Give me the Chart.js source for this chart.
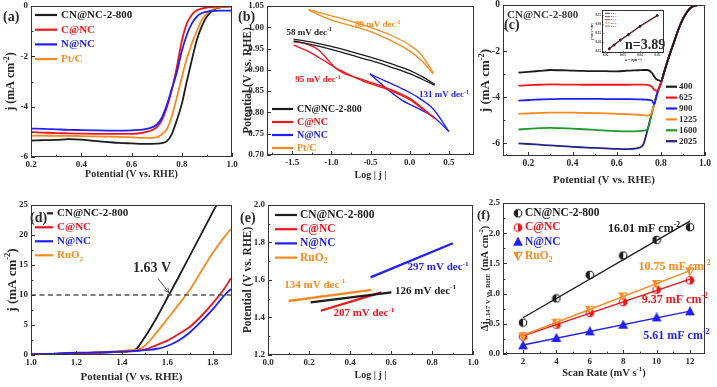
<!DOCTYPE html>
<html>
<head>
<meta charset="utf-8">
<script src="https://cdn.jsdelivr.net/npm/chart.js@4.4.1/dist/chart.umd.min.js"></script>
<style>
  html, body { margin: 0; padding: 0; background: #fff; }
  body { width: 717px; height: 387px; position: relative; overflow: hidden; }
  canvas { position: absolute; }
</style>
</head>
<body>
<canvas id="chartA"></canvas>
<canvas id="chartB"></canvas>
<canvas id="chartC"></canvas>
<canvas id="chartInset"></canvas>
<canvas id="chartD"></canvas>
<canvas id="chartE"></canvas>
<canvas id="chartF"></canvas>
<script>
// (a) ORR polarisation curves
const aPotential = [0.2, 0.25, 0.3, 0.35, 0.4, 0.45, 0.5, 0.55, 0.6, 0.65, 0.7, 0.72, 0.74, 0.76, 0.78, 0.8, 0.82, 0.84, 0.86, 0.88, 0.9, 0.92, 0.94, 0.96, 0.98, 1.0];
const aCN = [-5.35, -5.33, -5.32, -5.29, -5.31, -5.36, -5.4, -5.44, -5.46, -5.48, -5.47, -5.45, -5.38, -5.1, -4.55, -3.9, -3.0, -2.15, -1.35, -0.8, -0.42, -0.2, -0.09, -0.04, -0.02, -0.01];
const aC = [-5.01, -5.03, -5.05, -5.06, -5.07, -5.08, -5.08, -5.08, -5.08, -5.02, -4.82, -4.55, -4.05, -3.35, -2.45, -1.4, -0.7, -0.35, -0.17, -0.1, -0.06, -0.04, -0.02, -0.01, -0.01, -0.01];
const aN = [-4.87, -4.88, -4.9, -4.92, -4.93, -4.94, -4.95, -4.95, -4.94, -4.9, -4.72, -4.45, -3.95, -3.3, -2.65, -1.8, -1.15, -0.7, -0.42, -0.28, -0.22, -0.2, -0.19, -0.18, -0.18, -0.18];
const aPt = [-5.15, -5.15, -5.16, -5.16, -5.17, -5.18, -5.19, -5.2, -5.22, -5.24, -5.22, -5.1, -4.9, -4.4, -3.65, -2.85, -2.1, -1.5, -1.0, -0.55, -0.3, -0.15, -0.07, -0.03, -0.02, -0.01];

// (b) ORR Tafel loops (forward / backward branch)
const bLogJCN = [-1.48, -1.25, -1.0, -0.75, -0.5, -0.25, 0.0, 0.16, 0.32];
const bCNUpper = [0.972, 0.965, 0.955, 0.943, 0.930, 0.915, 0.899, 0.884, 0.866];
const bCNLower = [0.968, 0.959, 0.948, 0.935, 0.922, 0.907, 0.891, 0.878, 0.864];
const bLogJC = [-1.48, -1.3, -1.15, -1.05, -0.95, -0.85, -0.6, -0.3, 0.0, 0.15, 0.32];
const bCUpper = [0.966, 0.960, 0.945, 0.925, 0.905, 0.893, 0.877, 0.858, 0.833, 0.812, 0.786];
const bCLower = [0.958, 0.944, 0.928, 0.917, 0.905, 0.896, 0.874, 0.855, 0.830, 0.810, 0.786];
const bLogJN = [-0.507, -0.3, -0.1, 0.1, 0.3, 0.5];
const bNUpper = [0.890, 0.873, 0.856, 0.836, 0.808, 0.755];
const bNLower = [0.890, 0.857, 0.829, 0.810, 0.790, 0.755];
const bLogJPt = [-1.29, -1.0, -0.75, -0.5, -0.25, 0.0, 0.15, 0.3];
const bPtUpper = [1.042, 1.027, 1.014, 1.000, 0.982, 0.958, 0.935, 0.893];
const bPtLower = [1.040, 1.017, 1.004, 0.990, 0.970, 0.944, 0.922, 0.890];

// (c) RDE curves at different rotation rates (rpm)
const cPotential = [0.155, 0.2, 0.25, 0.3, 0.35, 0.4, 0.45, 0.5, 0.55, 0.6, 0.65, 0.7, 0.72, 0.74, 0.76, 0.77, 0.78, 0.79, 0.8, 0.82, 0.84, 0.86, 0.88, 0.9, 0.92, 0.94, 0.96, 0.97];
const c400 = [-2.93, -2.9, -2.86, -2.82, -2.83, -2.85, -2.86, -2.87, -2.87, -2.88, -2.85, -2.83, -2.82, -2.82, -2.95, -3.1, -3.22, -3.27, -3.3, -2.75, -2.15, -1.6, -1.05, -0.6, -0.28, -0.09, -0.02, 0];
const c625 = [-3.5, -3.48, -3.46, -3.44, -3.45, -3.45, -3.46, -3.46, -3.46, -3.46, -3.46, -3.45, -3.45, -3.46, -3.55, -3.68, -3.72, -3.65, -3.4, -2.75, -2.15, -1.6, -1.05, -0.6, -0.28, -0.09, -0.02, 0];
const c900 = [-4.15, -4.12, -4.1, -4.08, -4.07, -4.07, -4.07, -4.07, -4.08, -4.08, -4.08, -4.09, -4.1, -4.11, -4.15, -4.3, -3.95, -3.65, -3.4, -2.75, -2.15, -1.6, -1.05, -0.6, -0.28, -0.09, -0.02, 0];
const c1225 = [-4.72, -4.7, -4.68, -4.67, -4.67, -4.67, -4.68, -4.69, -4.7, -4.72, -4.74, -4.76, -4.78, -4.8, -4.65, -4.3, -3.95, -3.65, -3.4, -2.75, -2.15, -1.6, -1.05, -0.6, -0.28, -0.09, -0.02, 0];
const c1600 = [-5.4, -5.37, -5.34, -5.33, -5.34, -5.36, -5.39, -5.42, -5.45, -5.47, -5.48, -5.47, -5.45, -5.4, -4.65, -4.3, -3.95, -3.65, -3.4, -2.75, -2.15, -1.6, -1.05, -0.6, -0.28, -0.09, -0.02, 0];
const c2025 = [-6.0, -6.03, -6.06, -6.09, -6.12, -6.15, -6.18, -6.2, -6.22, -6.24, -6.25, -6.2, -6.07, -5.4, -4.65, -4.3, -3.95, -3.65, -3.4, -2.75, -2.15, -1.6, -1.05, -0.6, -0.28, -0.09, -0.02, 0];
const cSpeeds = ['400', '625', '900', '1225', '1600', '2025'];

// (c) inset, K-L plots
const insetOmega = [0.0222, 0.025, 0.0286, 0.0333, 0.04, 0.05];
const inset02 = [0.165, 0.186, 0.213, 0.244, 0.290, 0.350];
const inset03 = [0.164, 0.185, 0.212, 0.243, 0.289, 0.349];
const inset04 = [0.163, 0.184, 0.211, 0.242, 0.288, 0.348];
const inset05 = [0.162, 0.183, 0.210, 0.241, 0.287, 0.347];
const inset06 = [0.161, 0.182, 0.209, 0.240, 0.286, 0.346];
const insetLabels = ['0.2 V', '0.3 V', '0.4 V', '0.5 V', '0.6 V'];

// (d) OER polarisation curves
const dPotential = [1.0, 1.05, 1.1, 1.15, 1.2, 1.25, 1.3, 1.35, 1.4, 1.43, 1.46, 1.5, 1.55, 1.6, 1.65, 1.7, 1.75, 1.8, 1.85, 1.88];
const dCN = [0.1, 0.15, 0.2, 0.25, 0.3, 0.35, 0.4, 0.45, 0.55, 0.65, 0.9, 2.9, 6.0, 9.5, 13.0, 16.6, 20.2, 23.8, 27.3, 29.5];
const dC = [0.1, 0.15, 0.2, 0.25, 0.3, 0.35, 0.4, 0.5, 0.55, 0.6, 0.7, 0.9, 1.6, 2.4, 3.5, 4.7, 6.5, 8.6, 11.0, 12.8];
const dN = [0.1, 0.15, 0.2, 0.3, 0.4, 0.4, 0.45, 0.5, 0.55, 0.6, 0.65, 0.8, 1.0, 1.5, 2.4, 3.8, 5.6, 7.6, 9.9, 11.0];
const dRu = [0.1, 0.15, 0.2, 0.25, 0.3, 0.35, 0.45, 0.55, 0.7, 0.8, 0.8, 1.5, 3.6, 6.0, 8.4, 10.9, 14.0, 17.0, 19.6, 21.0];
const dRefX = [1.0, 1.885];
const dRefY = [10, 10];

// (e) OER Tafel lines
const eCNx = [0.208, 0.602], eCNy = [1.481, 1.534];
const eCx = [0.257, 0.553], eCy = [1.436, 1.534];
const eNx = [0.5, 0.902], eNy = [1.614, 1.796];
const eRux = [0.101, 0.504], eRuy = [1.488, 1.547];

// (f) double-layer capacitance
const fScanRate = [2, 4, 6, 8, 10, 12];
const fCN = [0.52, 0.92, 1.31, 1.63, 1.89, 2.10];
const fC = [0.29, 0.485, 0.68, 0.86, 1.065, 1.22];
const fRu = [0.29, 0.52, 0.733, 0.954, 1.159, 1.368];
const fN = [0.143, 0.265, 0.375, 0.485, 0.606, 0.706];
const fFitX = [2, 12];
const fCNFit = [0.6, 2.2];
const fCFit = [0.3, 1.24];
const fRuFit = [0.31, 1.38];
const fNFit = [0.15, 0.71];

const FONT = '"Liberation Serif", "Times New Roman", serif';
const INK = '#2a2a2a';
const BLACK = '#1c1c1c', RED = '#f2141c', BLUE = '#1f1fff', ORANGE = '#f98a1f', GREEN = '#1e9a2a', NAVY = '#22228a';

Chart.defaults.font.family = FONT;
Chart.defaults.font.weight = 'bold';
Chart.defaults.color = INK;

// text with ^{sup} and _{sub}
function richParts(s) {
    const parts = [], re = /([_^])\{([^}]*)\}/g;
    let last = 0, m;
    while ((m = re.exec(s))) {
        if (m.index > last) parts.push({ t: s.slice(last, m.index), k: 0 });
        parts.push({ t: m[2], k: m[1] === '^' ? -1 : 1 });
        last = re.lastIndex;
    }
    if (last < s.length) parts.push({ t: s.slice(last), k: 0 });
    return parts;
}

function drawRich(ctx, s, x, y, size, color, align) {
    const parts = richParts(s);
    let w = 0;
    parts.forEach(p => {
        p.size = p.k ? size * 0.65 : size;
        ctx.font = 'bold ' + p.size + 'px ' + FONT;
        p.w = ctx.measureText(p.t).width;
        w += p.w;
    });
    let cx = align === 'center' ? x - w / 2 : x;
    ctx.fillStyle = color;
    ctx.textAlign = 'left';
    ctx.textBaseline = 'middle';
    parts.forEach(p => {
        ctx.font = 'bold ' + p.size + 'px ' + FONT;
        ctx.fillText(p.t, cx, y + p.k * size * 0.33);
        cx += p.w;
    });
}

// marker images for panel (f)
function marker(color, kind) {
    const c = document.createElement('canvas');
    c.width = c.height = 10;
    const g = c.getContext('2d');
    g.strokeStyle = color;
    g.fillStyle = '#fff';
    g.lineWidth = 1.1;
    const shape = () => {
        g.beginPath();
        if (kind === 'up') { g.moveTo(5, 1); g.lineTo(9, 8.5); g.lineTo(1, 8.5); g.closePath(); }
        else if (kind === 'down') { g.moveTo(1, 1.5); g.lineTo(9, 1.5); g.lineTo(5, 9); g.closePath(); }
        else g.arc(5, 5, 3.8, 0, Math.PI * 2);
    };
    shape(); g.fill();
    g.fillStyle = color;
    if (kind === 'left' || kind === 'right') {
        g.beginPath();
        if (kind === 'left') g.arc(5, 5, 3.8, Math.PI / 2, Math.PI * 1.5);
        else g.arc(5, 5, 3.8, -Math.PI / 2, Math.PI / 2);
        g.closePath(); g.fill();
    } else if (kind === 'up') {
        shape(); g.fill();
    } else {
        g.beginPath(); g.moveTo(1, 1.5); g.lineTo(5, 1.5); g.lineTo(5, 9); g.closePath(); g.fill();
    }
    shape(); g.stroke();
    return c;
}

function tickValues(t) {
    const out = [];
    for (let i = Math.ceil(t.min / t.step - 1e-6); i * t.step <= t.max + 1e-9; i++) out.push(i * t.step);
    return out;
}
const isMajor = (v, t) => Math.abs(v / t.major - Math.round(v / t.major)) < 1e-6;

// frame, inward ticks, tick labels, titles, legends and labels
const decoPlugin = {
    id: 'deco',
    afterDraw(chart, args, o) {
        const ctx = chart.ctx, a = chart.chartArea;
        const xs = chart.scales.x, ys = chart.scales.y;
        const tl = o.tickLen || 4;
        ctx.save();
        ctx.strokeStyle = '#333';
        ctx.lineWidth = 1;
        ctx.beginPath();
        tickValues(o.xt).forEach(v => {
            const p = Math.round(xs.getPixelForValue(v)) + 0.5;
            ctx.moveTo(p, a.bottom);
            ctx.lineTo(p, a.bottom - (isMajor(v, o.xt) ? tl : tl * 0.6));
        });
        tickValues(o.yt).forEach(v => {
            const p = Math.round(ys.getPixelForValue(v)) + 0.5;
            ctx.moveTo(a.left, p);
            ctx.lineTo(a.left + (isMajor(v, o.yt) ? tl : tl * 0.6), p);
        });
        ctx.stroke();
        ctx.strokeRect(Math.round(a.left) + 0.5, Math.round(a.top) + 0.5, Math.round(a.right - a.left) - 1, Math.round(a.bottom - a.top) - 1);

        ctx.fillStyle = INK;
        ctx.font = 'bold ' + o.xt.size + 'px ' + FONT;
        ctx.textAlign = 'center';
        ctx.textBaseline = 'top';
        tickValues(o.xt).filter(v => isMajor(v, o.xt)).forEach(v => {
            ctx.fillText(v.toFixed(o.xt.dec), xs.getPixelForValue(v), a.bottom + o.xt.pad);
        });
        ctx.font = 'bold ' + o.yt.size + 'px ' + FONT;
        ctx.textAlign = 'right';
        ctx.textBaseline = 'middle';
        tickValues(o.yt).filter(v => isMajor(v, o.yt)).forEach(v => {
            ctx.fillText(v.toFixed(o.yt.dec), a.left - o.yt.pad, ys.getPixelForValue(v));
        });

        if (o.xTitle) drawRich(ctx, o.xTitle.text, (a.left + a.right) / 2, a.bottom + o.xTitle.dy, o.xTitle.size, INK, 'center');
        if (o.yTitle) {
            ctx.save();
            ctx.translate(a.left + o.yTitle.dx, (a.top + a.bottom) / 2);
            ctx.rotate(-Math.PI / 2);
            drawRich(ctx, o.yTitle.text, 0, 0, o.yTitle.size, INK, 'center');
            ctx.restore();
        }
        (o.texts || []).forEach(t => drawRich(ctx, t.text, a.left + t.x, a.top + t.y, t.size, t.color || INK, 'left'));
        (o.notes || []).forEach(n => drawRich(ctx, n.text, xs.getPixelForValue(n.x), ys.getPixelForValue(n.y), n.size, n.color, 'left'));

        if (o.arrow) {
            const x0 = xs.getPixelForValue(o.arrow.from[0]), y0 = ys.getPixelForValue(o.arrow.from[1]);
            const x1 = xs.getPixelForValue(o.arrow.to[0]), y1 = ys.getPixelForValue(o.arrow.to[1]);
            const ang = Math.atan2(y1 - y0, x1 - x0);
            ctx.strokeStyle = o.arrow.color;
            ctx.lineWidth = 1;
            ctx.beginPath();
            ctx.moveTo(x0, y0); ctx.lineTo(x1, y1);
            ctx.moveTo(x1 - 5 * Math.cos(ang - 0.45), y1 - 5 * Math.sin(ang - 0.45));
            ctx.lineTo(x1, y1);
            ctx.lineTo(x1 - 5 * Math.cos(ang + 0.45), y1 - 5 * Math.sin(ang + 0.45));
            ctx.stroke();
        }

        if (o.legend) {
            const L = o.legend;
            L.items.forEach((it, i) => {
                const y = a.top + L.y + i * L.dy;
                const x = a.left + L.x;
                if (it.marker) {
                    ctx.drawImage(it.marker, x - 5, y - 5);
                } else {
                    ctx.strokeStyle = it.color;
                    ctx.lineWidth = L.width || 2.2;
                    ctx.beginPath();
                    ctx.moveTo(x + (it.start || 0), y); ctx.lineTo(x + L.len, y);
                    ctx.stroke();
                }
                drawRich(ctx, it.text, x + L.len + L.gap, y, L.size, L.textColor || it.color, 'left');
            });
        }
        if (o.tag) drawRich(ctx, o.tag.text, a.left + o.tag.x, a.top + o.tag.y, o.tag.size, INK, 'left');
        ctx.restore();
    }
};

// axis range + tick spec (labels are drawn by the deco plugin)
function axis(min, max, step, major, dec, size, pad) {
    return { min: min, max: max, step: step, major: major, dec: dec, size: size || 9, pad: pad === undefined ? 3 : pad };
}

function series(xs, ys, color, extra) {
    return Object.assign({
        data: xs.map((x, i) => ({ x: x, y: ys[i] })),
        showLine: true, borderColor: color, backgroundColor: color,
        pointRadius: 0, borderWidth: 1.8, cubicInterpolationMode: 'monotone'
    }, extra || {});
}

function makePanel(id, rect, datasets, xt, yt, deco, gap) {
    const g = gap || { left: 32, bottom: 32, top: 6, right: 12 };
    const cv = document.getElementById(id);
    const w = rect[2] - rect[0] + g.left + g.right;
    const h = rect[3] - rect[1] + g.top + g.bottom;
    cv.width = w; cv.height = h;
    cv.style.left = (rect[0] - g.left) + 'px';
    cv.style.top = (rect[1] - g.top) + 'px';
    cv.style.width = w + 'px';
    cv.style.height = h + 'px';
    const scale = (t, fit) => ({
        type: 'linear', min: t.min, max: t.max,
        grid: { display: false, drawTicks: false },
        border: { display: false },
        ticks: { display: false },
        afterFit: fit
    });
    deco.xt = xt;
    deco.yt = yt;
    return new Chart(cv, {
        type: 'scatter',
        data: { datasets: datasets },
        options: {
            responsive: false,
            animation: false,
            layout: { padding: { left: 0, top: g.top, right: g.right, bottom: 0 } },
            scales: {
                x: scale(xt, s => { s.height = g.bottom; s.paddingLeft = 0; s.paddingRight = 0; }),
                y: scale(yt, s => { s.width = g.left; s.paddingTop = 0; s.paddingBottom = 0; })
            },
            plugins: { legend: { display: false }, tooltip: { enabled: false }, deco: deco }
        },
        plugins: [decoPlugin]
    });
}

const names4 = ['CN@NC-2-800', 'C@NC', 'N@NC'];

// (a)
makePanel('chartA', [31, 6, 232, 157], [
    series(aPotential, aN, BLUE),
    series(aPotential, aC, RED),
    series(aPotential, aPt, ORANGE),
    series(aPotential, aCN, BLACK)
], axis(0.2, 1.0, 0.1, 0.2, 1), axis(-6, 0, 1, 2, 0), {
    tag: { text: '(a)', x: -28, y: 11, size: 14 },
    xTitle: { text: 'Potential (V vs. RHE)', dy: 17.5, size: 10 },
    yTitle: { text: 'j (mA cm^{-2})', dx: -20, size: 12 },
    legend: { x: 4, y: 9, dy: 14.7, len: 22, gap: 4, size: 11, items: [
        { text: names4[0], color: BLACK }, { text: names4[1], color: RED },
        { text: names4[2], color: BLUE }, { text: 'Pt/C', color: ORANGE }] }
});

// (b)
makePanel('chartB', [267, 6, 474, 155], [
    series(bLogJPt, bPtUpper, ORANGE, { borderWidth: 1.3 }),
    series(bLogJPt, bPtLower, ORANGE, { borderWidth: 1.3 }),
    series(bLogJCN, bCNUpper, BLACK, { borderWidth: 1.3 }),
    series(bLogJCN, bCNLower, BLACK, { borderWidth: 1.3 }),
    series(bLogJC, bCUpper, RED, { borderWidth: 1.3 }),
    series(bLogJC, bCLower, RED, { borderWidth: 1.3 }),
    series(bLogJN, bNUpper, BLUE, { borderWidth: 1.3 }),
    series(bLogJN, bNLower, BLUE, { borderWidth: 1.3 })
], axis(-1.82, 0.82, 0.25, 0.5, 1), axis(0.70, 1.05, 0.05, 0.05, 2), {
    tag: { text: '(b)', x: -29, y: 11.5, size: 14 },
    xTitle: { text: 'Log | j |', dy: 20, size: 10 },
    yTitle: { text: 'Potential (V vs. RHE)', dx: -18.5, size: 11.5 },
    notes: [
        { x: -1.57, y: 0.987, text: '58 mV dec^{-1}', color: BLACK, size: 9 },
        { x: -0.697, y: 1.005, text: '89 mV dec^{-1}', color: ORANGE, size: 9 },
        { x: -1.46, y: 0.876, text: '95 mV dec^{-1}', color: RED, size: 9 },
        { x: 0.118, y: 0.841, text: '131 mV dec^{-1}', color: BLUE, size: 9 }
    ],
    legend: { x: 5, y: 103, dy: 13, len: 21, gap: 4, size: 10, items: [
        { text: names4[0], color: BLACK }, { text: names4[1], color: RED },
        { text: names4[2], color: BLUE }, { text: 'Pt/C', color: ORANGE }] }
});

// (c)
const cColors = [BLACK, RED, BLUE, ORANGE, GREEN, NAVY];
makePanel('chartC', [503, 5, 705, 156],
    [c400, c625, c900, c1225, c1600, c2025].map((ys, i) => series(cPotential, ys, cColors[i])),
    axis(0.085, 1.0, 0.1, 0.2, 1, 9.5), axis(-6.55, 0, 1, 2, 0, 9.5), {
    tag: { text: '(c)', x: 1, y: 20.5, size: 14 },
    texts: [{ text: 'CN@NC-2-800', x: 4, y: 10, size: 11, color: '#3a3a3a' }],
    xTitle: { text: 'Potential (V vs. RHE)', dy: 24, size: 11 },
    yTitle: { text: 'j (mA cm^{-2})', dx: -17, size: 13 },
    legend: { x: 163, y: 81.7, dy: 10.9, len: 11, gap: 2, size: 9, textColor: INK,
        items: cSpeeds.map((s, i) => ({ text: s, color: cColors[i] })) }
});

// (c) inset
const insetColors = [BLACK, RED, BLUE, ORANGE, GREEN];
makePanel('chartInset', [602, 7, 665, 53],
    [inset02, inset03, inset04, inset05, inset06].map((ys, i) =>
        series(insetOmega, ys, insetColors[i], { borderWidth: 0.8, pointRadius: 0.8, cubicInterpolationMode: 'default' })),
    axis(0.018, 0.054, 0.01, 0.01, 2, 3.2, 1), axis(0.14, 0.38, 0.05, 0.05, 2, 3.2, 1), {
    tickLen: 1.5,
    xTitle: { text: 'ω^{-1/2} (rpm^{-1/2})', dy: 7.5, size: 3 },
    yTitle: { text: 'j^{-1} (mA^{-1} cm^{2})', dx: -9.5, size: 3 },
    texts: [{ text: 'n=3.89', x: 23, y: 36, size: 14, color: '#2a2a2a' }],
    legend: { x: 3, y: 3.5, dy: 3.2, len: 5, gap: 1, size: 2.6, width: 0.8, textColor: INK,
        items: insetLabels.map((s, i) => ({ text: s, color: insetColors[i] })) }
}, { left: 11, bottom: 10, top: 2, right: 4 });

// (d)
makePanel('chartD', [31, 205, 232, 355], [
    series(dRefX, dRefY, '#555', { borderDash: [5, 3.5], borderWidth: 1.6 }),
    series(dPotential, dN, BLUE),
    series(dPotential, dC, RED),
    series(dPotential, dRu, ORANGE),
    series(dPotential, dCN, BLACK)
], axis(1.0, 1.885, 0.1, 0.2, 1), axis(0, 25, 2.5, 5, 0), {
    tag: { text: '(d)', x: -1, y: 13.7, size: 14 },
    xTitle: { text: 'Potential (V vs. RHE)', dy: 21.7, size: 11 },
    yTitle: { text: 'j (mA cm^{-2})', dx: -18.5, size: 13 },
    notes: [{ x: 1.449, y: 14.45, text: '1.63 V', color: INK, size: 14 }],
    arrow: { from: [1.558, 12.8], to: [1.607, 10.4], color: '#555' },
    legend: { x: 4, y: 8.3, dy: 14, len: 18, gap: 4, size: 11, items: [
        { text: names4[0], color: BLACK, start: 12 }, { text: names4[1], color: RED },
        { text: names4[2], color: BLUE }, { text: 'RuO_{2}', color: ORANGE }] }
});

// (e)
makePanel('chartE', [268, 205, 473, 355], [
    series(eRux, eRuy, ORANGE, { borderWidth: 2.3 }),
    series(eCNx, eCNy, BLACK, { borderWidth: 2.3 }),
    series(eCx, eCy, RED, { borderWidth: 2.3 }),
    series(eNx, eNy, BLUE, { borderWidth: 2.3 })
], axis(0, 1.0, 0.1, 0.2, 1), axis(1.2, 2.0, 0.1, 0.2, 1), {
    tag: { text: '(e)', x: -28, y: 13, size: 14 },
    xTitle: { text: 'Log | j |', dy: 20, size: 10 },
    yTitle: { text: 'Potential (V vs. RHE)', dx: -19.5, size: 11.5 },
    notes: [
        { x: 0.681, y: 1.666, text: '297 mV dec^{-1}', color: BLUE, size: 11 },
        { x: 0.0795, y: 1.573, text: '134 mV dec^{-1}', color: ORANGE, size: 11 },
        { x: 0.62, y: 1.543, text: '126 mV dec^{-1}', color: BLACK, size: 11 },
        { x: 0.319, y: 1.422, text: '207 mV dec^{-1}', color: RED, size: 11 }
    ],
    legend: { x: 7, y: 10, dy: 14.2, len: 22, gap: 3, size: 11.5, items: [
        { text: names4[0], color: BLACK }, { text: names4[1], color: RED },
        { text: names4[2], color: BLUE }, { text: 'RuO_{2}', color: ORANGE }] }
});

// (f)
const mCN = marker(BLACK, 'left'), mC = marker(RED, 'right'), mN = marker(BLUE, 'up'), mRu = marker(ORANGE, 'down');
makePanel('chartF', [503, 203, 705, 354], [
    series(fFitX, fCNFit, BLACK, { borderWidth: 1.4 }),
    series(fFitX, fRuFit, ORANGE, { borderWidth: 1.4 }),
    series(fFitX, fCFit, RED, { borderWidth: 1.4 }),
    series(fFitX, fNFit, BLUE, { borderWidth: 1.4 }),
    series(fScanRate, fCN, BLACK, { showLine: false, pointRadius: 4, pointStyle: mCN }),
    series(fScanRate, fRu, ORANGE, { showLine: false, pointRadius: 4, pointStyle: mRu }),
    series(fScanRate, fC, RED, { showLine: false, pointRadius: 4, pointStyle: mC }),
    series(fScanRate, fN, BLUE, { showLine: false, pointRadius: 4, pointStyle: mN })
], axis(0.8, 12.9, 1, 2, 0), axis(0, 2.5, 0.25, 0.5, 1), {
    tag: { text: '(f)', x: -26, y: 13, size: 13 },
    xTitle: { text: 'Scan Rate (mV s^{-1})', dy: 19, size: 10.5 },
    yTitle: { text: 'Δj_{1.147 V vs. RHE} (mA cm^{-2})', dx: -18, size: 10.5 },
    notes: [
        { x: 7.09, y: 2.065, text: '16.01 mF cm^{-2}', color: BLACK, size: 12 },
        { x: 8.91, y: 1.445, text: '10.75 mF cm^{-2}', color: ORANGE, size: 12 },
        { x: 9.11, y: 0.894, text: '9.37 mF cm^{-2}', color: RED, size: 12 },
        { x: 9.2, y: 0.298, text: '5.61 mF cm^{-2}', color: BLUE, size: 12 }
    ],
    legend: { x: 15, y: 10.3, dy: 14.2, len: 0, gap: 7, size: 11.5, items: [
        { text: names4[0], color: BLACK, marker: mCN }, { text: names4[1], color: RED, marker: mC },
        { text: names4[2], color: BLUE, marker: mN }, { text: 'RuO_{2}', color: ORANGE, marker: mRu }] }
});
</script>
</body>
</html>
